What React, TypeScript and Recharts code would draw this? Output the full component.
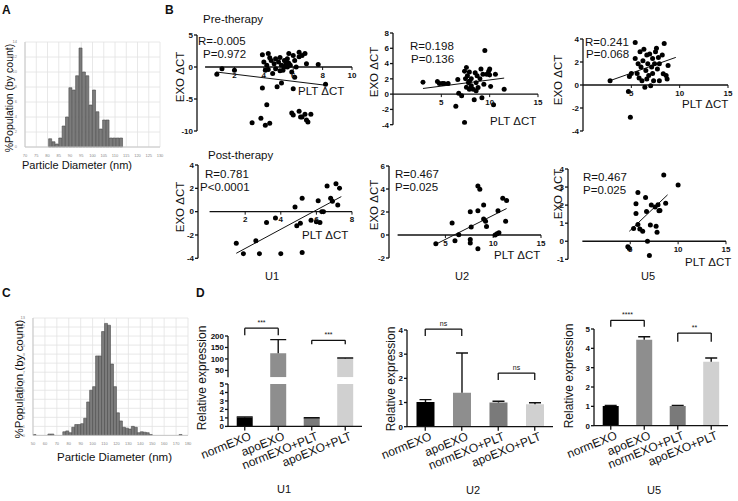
import React from 'react';
import {
  BarChart,
  Bar,
  Cell,
  ScatterChart,
  Scatter,
  XAxis,
  YAxis,
  CartesianGrid,
  ReferenceLine,
} from 'recharts';

const FONT = 'Arial, "Liberation Sans", Helvetica, sans-serif';

// ---- A / C: particle size histograms (bin starts, nm) ----
const histABins = [
  70, 71.5, 73, 74.5, 76, 77.5, 79, 80.5, 82, 83.5, 85, 86.5, 88, 89.5, 91, 92.5, 94, 95.5, 97, 98.5,
  100, 101.5, 103, 104.5, 106, 107.5, 109, 110.5, 112, 113.5, 115, 116.5, 118, 119.5, 121, 122.5, 124,
  125.5, 127, 128.5,
];
const histACounts = [
  0, 0, 0, 0, 0, 0, 0, 1.1, 0.7, 0.4, 1.2, 2.8, 4.0, 7.9, 7.6, 9.5, 13.2, 10.0, 9.5, 5.6, 7.6, 4.7, 2.4,
  3.6, 3.6, 1.2, 1.2, 1.2, 1.2, 0, 0, 0, 0, 0, 0, 0, 0, 0, 0, 0,
];
const histAXTicks = [70, 75, 80, 85, 90, 95, 100, 105, 110, 115, 120, 125, 130];
const histAYTicks = [0, 2, 4, 6, 8, 10, 12, 14];

const histCBins = [
  50, 52.5, 55, 57.5, 60, 62.5, 65, 67.5, 70, 72.5, 75, 77.5, 80, 82.5, 85, 87.5, 90, 92.5, 95, 97.5,
  100, 102.5, 105, 107.5, 110, 112.5, 115, 117.5, 120, 122.5, 125, 127.5, 130, 132.5, 135, 137.5, 140,
  142.5, 145, 147.5, 150, 152.5, 155, 157.5, 160, 162.5, 165, 167.5, 170, 172.5, 175, 177.5,
];
const histCCounts = [
  0.1, 0, 0, 0, 0, 0.15, 0.15, 0, 0, 0, 0.4, 0.5, 0.3, 0.9, 1.2, 1.2, 1.3, 1.9, 3.7, 5.0, 5.4, 8.8, 8.8,
  11.5, 12.4, 12.2, 7.9, 5.4, 2.5, 1.6, 0.9, 0.8, 0.7, 1.0, 0.9, 0.3, 0.4, 0.35, 0.3, 0.1, 0, 0, 0, 0, 0,
  0, 0, 0, 0, 0.1, 0, 0,
];
const histCXTicks = [50, 60, 70, 80, 90, 100, 110, 120, 130, 140, 150, 160, 170, 180];
const histCYTicks = [0, 1, 2, 3, 4, 5, 6, 7, 8, 9, 10, 11, 12, 13];

// ---- B: EXO dCT vs PLT dCT, [PLT, EXO] ----
const preU1: [number, number][] = [
  [0.8, -1.15], [1.15, -0.26], [2.0, -0.5], [3.9, 1.9], [4.3, 2.1], [3.9, -3.3], [4.2, 0.26], [4.3, -0.4],
  [4.5, 1.0], [4.6, -1.0], [4.7, 0.5], [4.8, -0.26], [4.9, -3.1], [5.1, 1.5], [5.2, 0.26], [5.2, -2.5],
  [5.3, -0.5], [5.4, 1.0], [5.5, 0.8], [5.6, 0], [5.6, 1.3], [5.7, 2.1], [5.8, 0.26], [5.9, -0.8],
  [6.0, 1.8], [6.0, -3.4], [6.1, -1.6], [6.2, 0], [6.4, 2.3], [6.4, 1.6], [6.8, 2.1], [6.9, 0.5],
  [7.7, 0.4], [8.2, -2.7], [4.2, -5.9], [3.2, -8.7], [3.8, -8.0], [4.1, -9.1], [4.4, -8.8], [5.9, -7.2],
  [6.0, -7.5], [6.4, -6.9], [6.6, -7.8], [6.8, -7.4], [6.9, -8.3], [7.2, -7.4], [6.5, -7.8], [7.0, -8.6],
  [4.0, 0.8], [4.4, 1.45], [4.8, 1.3], [5.0, 0.8], [5.4, 0], [5.5, 0.4], [5.1, -0.6], [5.7, 0.6],
  [6.1, 1.0], [6.6, 1.8], [4.1, -0.5],
];
const preU2: [number, number][] = [
  [3.1, 1.57], [4.6, 1.65], [4.8, 1.4], [5.1, 1.4], [5.3, 1.4], [5.7, 1.4], [6.7, 1.9], [6.8, 0.1],
  [7.1, -0.2], [6.5, -1.6], [7.4, -3.7], [7.4, 3.0], [7.6, 3.5], [7.5, 2.0], [7.7, 2.4], [7.8, 1.5],
  [7.9, 0.65], [7.9, 2.9], [8.1, 1.1], [8.1, 2.0], [8.3, 0.65], [8.4, -0.74], [8.5, 2.8], [8.6, 1.5],
  [8.6, 0.43], [8.7, 2.4], [8.8, 0.87], [9.0, 2.0], [9.1, 3.3], [9.2, -0.48], [9.3, 2.6], [9.4, 1.3],
  [9.5, 5.7], [9.7, 2.6], [9.9, 3.0], [10.0, 2.5], [10.0, 3.3], [10.1, 1.0], [10.4, -1.4], [10.6, 2.6],
  [11.5, 0.65], [7.9, 1.7], [7.6, 0.9],
];
const preU5: [number, number][] = [
  [2.8, 0.38], [4.8, 0.74], [4.7, -0.56], [4.9, -2.8], [5.0, 1.0], [5.4, 3.7], [5.4, 2.3], [5.6, 1.0],
  [5.7, 1.85], [5.8, 0.6], [5.9, 2.9], [6.0, 1.56], [6.1, 0.38], [6.2, 2.1], [6.3, 3.1], [6.4, -0.2],
  [6.5, 1.26], [6.6, 2.6], [6.6, 0.53], [6.7, 1.85], [6.8, 0.82], [6.9, 2.7], [7.0, -0.06], [7.1, 1.56],
  [7.2, 2.3], [7.2, 1.0], [7.3, 0.38], [7.4, 1.85], [7.5, 2.9], [7.6, 3.2], [7.7, 1.4], [7.8, 2.4],
  [7.9, 0.38], [7.9, 1.85], [8.2, 2.6], [8.3, 0.97], [8.4, 3.6], [8.6, 0.82], [8.7, 0.53], [8.8, 1.7],
];
const postU1: [number, number][] = [
  [1.5, -2.7], [1.9, -3.6], [2.6, -2.5], [2.8, -3.6], [3.2, -0.94], [3.7, -0.54], [4.0, -3.6], [4.8, 0.4],
  [4.9, -1.2], [5.1, -1.0], [5.2, 1.14], [5.2, -3.5], [5.7, -0.74], [6.0, -0.86], [6.2, -0.94], [6.1, 0.94],
  [6.3, 0], [6.4, 0], [6.6, 2.2], [6.8, 1.14], [6.9, 0.9], [7.1, 2.4], [7.2, 0.57], [7.3, 2.0],
];
const postU2: [number, number][] = [
  [4.0, -0.75], [5.7, 1.04], [6.0, -0.5], [6.4, 0.03], [7.6, 2.03], [7.6, -0.4], [7.6, -0.7], [7.7, 0.7],
  [8.4, 2.1], [8.4, 4.26], [8.6, 3.97], [8.4, -1.2], [9.0, 2.6], [9.0, 1.4], [9.2, 1.2], [9.3, 0.75],
  [10.2, 0], [10.4, 0.1], [10.6, 0.2], [10.5, 2.1], [11.0, 3.2], [11.4, 3.0], [11.3, 1.2],
];
const postU5: [number, number][] = [
  [4.75, -0.31], [4.9, -0.4], [5.35, 0.7], [5.8, 2.7], [5.6, 2.07], [5.6, 1.54], [5.8, 0.92], [6.0, 0.68],
  [6.3, 0.55], [6.6, 2.42], [6.7, 1.65], [6.8, 0], [7.0, -0.79], [7.1, 0.9], [7.2, 2.0], [7.6, 1.89],
  [7.7, 0.83], [7.8, 0.5], [7.9, 2.02], [8.0, 1.69], [8.1, 1.7], [8.5, 3.67], [8.7, 2.11], [10.0, 3.12],
];
// regression lines (end points)
const fitPreU1 = [[0.76, -0.78], [8.2, -2.85]];
const fitPreU2 = [[3.1, 0.74], [11.5, 2.1]];
const fitPreU5 = [[2.8, 0.38], [9.6, 2.4]];
const fitPostU1 = [[1.5, -3.57], [7.4, 1.29]];
const fitPostU2 = [[4.0, -0.8], [11.4, 2.3]];
const fitPostU5 = [[4.9, 0.55], [8.9, 2.57]];

// ---- D: relative expression ----
const groups = ['normEXO', 'apoEXO', 'normEXO+PLT', 'apoEXO+PLT'];
const barColors = ['#000000', '#8e8e8e', '#7a7a7a', '#d0d0d0'];
const u1Mean = [1.05, 125, 1.0, 102];
const u1Err = [0.05, 59, 0.02, 2];
const u2Mean = [1.02, 1.4, 1.0, 0.93];
const u2Err = [0.1, 1.65, 0.05, 0.06];
const u5Mean = [1.02, 4.45, 1.02, 3.3];
const u5Err = [0.03, 0.15, 0.03, 0.2];
const u1Sig = [
  { a: 'normEXO', b: 'apoEXO', top: 234, end: 203, text: '***' },
  { a: 'normEXO+PLT', b: 'apoEXO+PLT', top: 181, end: 164, text: '***' },
];
const u2Sig = [
  { a: 'normEXO', b: 'apoEXO', top: 4.04, end: 3.75, text: 'ns' },
  { a: 'normEXO+PLT', b: 'apoEXO+PLT', top: 2.22, end: 1.93, text: 'ns' },
];
const u5Sig = [
  { a: 'normEXO', b: 'apoEXO', top: 5.45, end: 5.12, text: '****' },
  { a: 'normEXO+PLT', b: 'apoEXO+PLT', top: 4.79, end: 4.34, text: '**' },
];

const axisStroke = { stroke: '#111', strokeWidth: 1.3 };
const tickFont = { fontSize: 8, fill: '#111', fontWeight: 700 };

const Txt = ({ x, y, size = 11.5, bold = false, children }: any) => (
  <div
    style={{
      position: 'absolute',
      left: x,
      top: y,
      fontSize: size,
      lineHeight: 1,
      fontWeight: bold ? 700 : 400,
      whiteSpace: 'nowrap',
      color: '#111',
    }}
  >
    {children}
  </div>
);

const VTxt = ({ cx, cy, size = 11.5, children }: any) => (
  <div
    style={{
      position: 'absolute',
      left: cx,
      top: cy,
      fontSize: size,
      lineHeight: 1,
      whiteSpace: 'nowrap',
      color: '#111',
      transform: 'translate(-50%, -50%) rotate(-90deg)',
    }}
  >
    {children}
  </div>
);

const Histogram = ({ rect, bins, width, counts, xDomain, xTicks, yTicks, barPx }: any) => {
  const [L, T, R, B] = rect;
  const yw = 8;
  const xh = 8;
  const data = bins.map((s: number, i: number) => ({ x: s + width / 2, c: counts[i] }));
  return (
    <div style={{ position: 'absolute', left: L - yw, top: T }}>
      <BarChart
        width={R - L + yw}
        height={B - T + xh}
        data={data}
        margin={{ top: 0, right: 0, bottom: 0, left: 0 }}
        barCategoryGap={0}
      >
        <CartesianGrid stroke='#e2e2e2' strokeWidth={0.8} />
        <XAxis
          type='number'
          dataKey='x'
          domain={xDomain}
          ticks={xTicks}
          interval={0}
          allowDataOverflow
          height={xh}
          tickLine={false}
          tickMargin={1}
          axisLine={{ stroke: '#c8c8c8' }}
          tick={{ fontSize: 4, fill: '#888' }}
        />
        <YAxis
          domain={[0, yTicks[yTicks.length - 1]]}
          ticks={yTicks}
          interval={0}
          width={yw}
          tickLine={false}
          tickMargin={2}
          axisLine={{ stroke: '#c8c8c8' }}
          tick={{ fontSize: 4, fill: '#888' }}
        />
        <Bar
          dataKey='c'
          fill='#7c7c7c'
          stroke='#4c4c4c'
          strokeWidth={0.6}
          barSize={barPx}
          isAnimationActive={false}
        />
      </BarChart>
    </div>
  );
};

const Dot = (p: any) => <circle cx={p.cx} cy={p.cy} r={2.5} fill='#000' />;

const ScatterPanel = ({ rect, pts, fit, xDomain, yDomain, xTicks, yTicks }: any) => {
  const [L, T, R, B] = rect;
  const yw = 24;
  const data = pts.map(([x, y]: number[]) => ({ x, y }));
  const tl = (3 * (yDomain[1] - yDomain[0])) / (B - T);
  const xMax = xDomain[1];
  return (
    <div style={{ position: 'absolute', left: L - yw, top: T }}>
      <ScatterChart width={R - L + yw} height={B - T} margin={{ top: 0, right: 0, bottom: 0, left: 0 }}>
        <XAxis type='number' dataKey='x' domain={xDomain} hide allowDataOverflow />
        <YAxis
          type='number'
          dataKey='y'
          domain={yDomain}
          ticks={yTicks}
          interval={0}
          allowDataOverflow
          width={yw}
          tickSize={3}
          tickMargin={1}
          axisLine={axisStroke}
          tickLine={axisStroke}
          tick={tickFont}
        />
        <ReferenceLine
          segment={[{ x: 0, y: 0 }, { x: xMax, y: 0 }]}
          stroke='#111'
          strokeWidth={1.3}
          ifOverflow='visible'
        />
        {xTicks.map((t: number) => (
          <ReferenceLine
            key={t}
            segment={[{ x: t, y: 0 }, { x: t, y: -tl }]}
            stroke='#111'
            strokeWidth={1}
            ifOverflow='visible'
            label={{ value: t, position: 'bottom', offset: 2, ...tickFont }}
          />
        ))}
        <ReferenceLine
          segment={[{ x: fit[0][0], y: fit[0][1] }, { x: fit[1][0], y: fit[1][1] }]}
          stroke='#111'
          strokeWidth={1}
          ifOverflow='visible'
        />
        <Scatter data={data} fill='#000' shape={Dot} isAnimationActive={false} />
      </ScatterChart>
    </div>
  );
};

const SlantTick = (props: any) => {
  const { x, y, payload } = props;
  return (
    <g transform={`translate(${x},${y})`}>
      <text x={0} y={0} dy={9} dx={4} textAnchor='end' transform='rotate(-22)' fontSize={12} fill='#111'>
        {payload.value}
      </text>
    </g>
  );
};

const ErrShape = (p: any) => {
  const d = p.payload;
  if (!d || d.v < p.dMin || d.v + d.e > p.dMax) return null;
  const cx = p.x + p.width / 2;
  return (
    <g>
      <line x1={cx} x2={cx} y1={p.y} y2={p.y + p.height} stroke='#111' strokeWidth={1.4} />
      <line x1={cx - p.cap} x2={cx + p.cap} y1={p.y} y2={p.y} stroke='#111' strokeWidth={1.4} />
    </g>
  );
};

const BarPanel = ({ rect, means, errs, yDomain, yTicks, sig = [], cap = 6, showX = true }: any) => {
  const [L, T, R, B] = rect;
  const yw = 24;
  const xh = showX ? 40 : 0;
  const data = groups.map((g, i) => ({ g, v: means[i], e: errs[i] }));
  return (
    <div style={{ position: 'absolute', left: L - yw, top: T }}>
      <BarChart
        width={R - L + yw}
        height={B - T + xh}
        data={data}
        margin={{ top: 0, right: 0, bottom: 0, left: 0 }}
        barCategoryGap='26%'
      >
        <XAxis
          dataKey='g'
          hide={!showX}
          height={xh}
          interval={0}
          tickSize={4}
          axisLine={axisStroke}
          tickLine={axisStroke}
          tick={<SlantTick />}
        />
        <YAxis
          domain={yDomain}
          ticks={yTicks}
          interval={0}
          allowDataOverflow
          width={yw}
          tickSize={3}
          tickMargin={1}
          axisLine={axisStroke}
          tickLine={axisStroke}
          tick={tickFont}
        />
        <Bar dataKey='v' stackId='s' isAnimationActive={false}>
          {data.map((d, i) => (
            <Cell key={d.g} fill={barColors[i]} />
          ))}
        </Bar>
        <Bar
          dataKey='e'
          stackId='s'
          isAnimationActive={false}
          shape={(p: any) => <ErrShape {...p} cap={cap} dMin={yDomain[0]} dMax={yDomain[1]} />}
        />
        {sig.map((s: any) => (
          <React.Fragment key={s.a}>
            <ReferenceLine
              segment={[{ x: s.a, y: s.top }, { x: s.b, y: s.top }]}
              stroke='#111'
              strokeWidth={1.3}
              ifOverflow='visible'
              label={{ value: s.text, position: 'top', offset: 3, fontSize: 7, fill: '#111' }}
            />
            <ReferenceLine
              segment={[{ x: s.a, y: s.top }, { x: s.a, y: s.end }]}
              stroke='#111'
              strokeWidth={1.3}
              ifOverflow='visible'
            />
            <ReferenceLine
              segment={[{ x: s.b, y: s.top }, { x: s.b, y: s.end }]}
              stroke='#111'
              strokeWidth={1.3}
              ifOverflow='visible'
            />
          </React.Fragment>
        ))}
      </BarChart>
    </div>
  );
};

export default function App() {
  return (
    <div
      style={{
        position: 'absolute',
        left: 0,
        top: 0,
        width: 738,
        height: 501,
        background: '#fff',
        fontFamily: FONT,
        overflow: 'hidden',
      }}
    >
      <style>{'.recharts-surface{overflow:visible}'}</style>

      {/* A */}
      <Txt x={2} y={4} size={12} bold>A</Txt>
      <Histogram
        rect={[25, 42.3, 160, 147.3]}
        bins={histABins}
        width={1.5}
        counts={histACounts}
        xDomain={[70, 130]}
        xTicks={histAXTicks}
        yTicks={histAYTicks}
        barPx={3.375}
      />
      <VTxt cx={9} cy={98} size={10.5}>%Population (by count)</VTxt>
      <Txt x={22} y={160} size={11}>Particle Diameter (nm)</Txt>

      {/* C */}
      <Txt x={2} y={287} size={12} bold>C</Txt>
      <Histogram
        rect={[33.3, 318.3, 188.3, 435.7]}
        bins={histCBins}
        width={2.5}
        counts={histCCounts}
        xDomain={[50, 180]}
        xTicks={histCXTicks}
        yTicks={histCYTicks}
        barPx={2.98}
      />
      <VTxt cx={19.5} cy={379} size={11.5}>%Population (by count)</VTxt>
      <Txt x={57} y={452} size={11.5}>Particle Diameter (nm)</Txt>

      {/* B */}
      <Txt x={165} y={4} size={12} bold>B</Txt>
      <Txt x={203} y={14} size={11.5}>Pre-therapy</Txt>
      <Txt x={208} y={150} size={11.5}>Post-therapy</Txt>

      <ScatterPanel
        rect={[197, 35, 352, 131]}
        pts={preU1}
        fit={fitPreU1}
        xDomain={[-0.55, 10]}
        yDomain={[-10, 5]}
        xTicks={[2, 4, 6, 8, 10]}
        yTicks={[-10, -5, 0, 5]}
      />
      <ScatterPanel
        rect={[393, 33.3, 538, 125]}
        pts={preU2}
        fit={fitPreU2}
        xDomain={[0, 15]}
        yDomain={[-4, 8]}
        xTicks={[5, 10, 15]}
        yTicks={[-4, -2, 0, 2, 4, 6, 8]}
      />
      <ScatterPanel
        rect={[583, 39, 728, 131]}
        pts={preU5}
        fit={fitPreU5}
        xDomain={[0, 15]}
        yDomain={[-4, 4]}
        xTicks={[5, 10, 15]}
        yTicks={[-4, -2, 0, 2, 4]}
      />
      <ScatterPanel
        rect={[198, 165, 352, 258.3]}
        pts={postU1}
        fit={fitPostU1}
        xDomain={[-0.65, 8]}
        yDomain={[-4, 4]}
        xTicks={[2, 4, 6, 8]}
        yTicks={[-4, -2, 0, 2, 4]}
      />
      <ScatterPanel
        rect={[389, 165.7, 541, 257.7]}
        pts={postU2}
        fit={fitPostU2}
        xDomain={[-0.9, 15]}
        yDomain={[-2, 6]}
        xTicks={[5, 10, 15]}
        yTicks={[-2, 0, 2, 4, 6]}
      />
      <ScatterPanel
        rect={[568, 169, 726, 259.3]}
        pts={postU5}
        fit={fitPostU5}
        xDomain={[-1.5, 15]}
        yDomain={[-1, 4]}
        xTicks={[5, 10, 15]}
        yTicks={[-1, 0, 1, 2, 3, 4]}
      />

      <VTxt cx={181} cy={77}>EXO ΔCT</VTxt>
      <VTxt cx={375} cy={72}>EXO ΔCT</VTxt>
      <VTxt cx={559} cy={80}>EXO ΔCT</VTxt>
      <VTxt cx={181} cy={207}>EXO ΔCT</VTxt>
      <VTxt cx={375} cy={205}>EXO ΔCT</VTxt>
      <VTxt cx={559} cy={194}>EXO ΔCT</VTxt>

      <Txt x={198} y={35.5}>R=-0.005</Txt>
      <Txt x={203} y={48.5}>P=0.972</Txt>
      <Txt x={410} y={40.5}>R=0.198</Txt>
      <Txt x={411} y={53.5}>P=0.136</Txt>
      <Txt x={585} y={36.5}>R=0.241</Txt>
      <Txt x={586} y={48.5}>P=0.068</Txt>
      <Txt x={205} y={168.5}>R=0.781</Txt>
      <Txt x={200} y={181.5}>P&lt;0.0001</Txt>
      <Txt x={395} y={168.5}>R=0.467</Txt>
      <Txt x={395} y={181.5}>P=0.025</Txt>
      <Txt x={583} y={171.5}>R=0.467</Txt>
      <Txt x={583} y={184.5}>P=0.025</Txt>

      <Txt x={298} y={86}>PLT ΔCT</Txt>
      <Txt x={490} y={115.5}>PLT ΔCT</Txt>
      <Txt x={682} y={98.5}>PLT ΔCT</Txt>
      <Txt x={302} y={229.5}>PLT ΔCT</Txt>
      <Txt x={494} y={249.5}>PLT ΔCT</Txt>
      <Txt x={685} y={256.5}>PLT ΔCT</Txt>

      <Txt x={265} y={271} size={11}>U1</Txt>
      <Txt x={455} y={271} size={11}>U2</Txt>
      <Txt x={641} y={271} size={11}>U5</Txt>

      {/* D */}
      <Txt x={196} y={287} size={12} bold>D</Txt>
      <BarPanel
        rect={[228, 335.7, 362, 377]}
        means={u1Mean}
        errs={u1Err}
        yDomain={[20, 200]}
        yTicks={[50, 100, 150, 200]}
        sig={u1Sig}
        cap={8}
        showX={false}
      />
      <BarPanel
        rect={[228, 384.3, 362, 426.7]}
        means={u1Mean}
        errs={u1Err}
        yDomain={[0, 5]}
        yTicks={[0, 1, 2, 3, 4, 5]}
        cap={8}
      />
      <BarPanel
        rect={[407, 330, 553, 426.7]}
        means={u2Mean}
        errs={u2Err}
        yDomain={[0, 4]}
        yTicks={[0, 1, 2, 3, 4]}
        sig={u2Sig}
        cap={6}
      />
      <BarPanel
        rect={[594, 329.3, 728, 426]}
        means={u5Mean}
        errs={u5Err}
        yDomain={[0, 5]}
        yTicks={[0, 1, 2, 3, 4, 5]}
        sig={u5Sig}
        cap={6}
      />
      <VTxt cx={202} cy={378} size={12}>Relative expression</VTxt>
      <VTxt cx={391} cy={379} size={12}>Relative expression</VTxt>
      <VTxt cx={569} cy={376} size={12}>Relative expression</VTxt>

      <Txt x={277} y={484} size={11}>U1</Txt>
      <Txt x={466} y={485} size={11}>U2</Txt>
      <Txt x={647} y={485} size={11}>U5</Txt>
    </div>
  );
}
